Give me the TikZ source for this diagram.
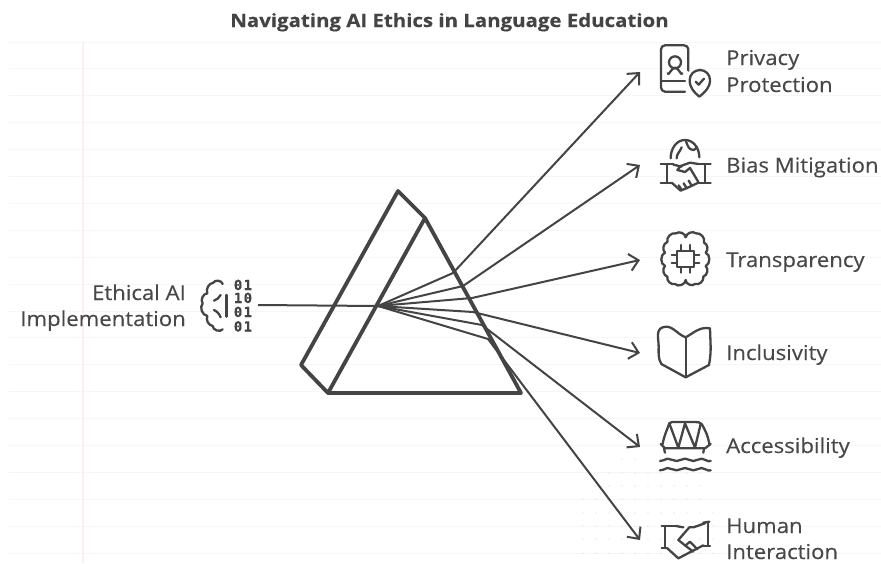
\documentclass[tikz,border=0pt]{standalone}
\usepackage{fontspec}
\setmainfont{Open Sans}
\newfontfamily\labelfont[FakeStretch=1.08,FakeBold=0.25]{Open Sans}
\newfontfamily\headfont[FakeStretch=1.11,FakeBold=0.3,BoldFont={* Bold}]{Open Sans}
\newfontfamily\digitfont[FakeBold=0.3,LetterSpace=10]{DejaVu Sans Mono}
\usetikzlibrary{arrows.meta}
\definecolor{ink}{HTML}{444444}
\definecolor{inktext}{HTML}{484848}
\definecolor{ruled}{HTML}{F6F6F6}
\definecolor{margin}{HTML}{FBEFF1}
\definecolor{dotc}{HTML}{EBEBEB}
\tikzset{
  label/.style={font=\labelfont\fontsize{20.5}{24}\selectfont, text=inktext, inner sep=0pt, anchor=base west},
  labelr/.style={label, anchor=base east},
  digit/.style={font=\digitfont\bfseries\fontsize{14}{14}\selectfont, text=ink, inner sep=0pt, text height=10pt, text depth=0pt},
  titletext/.style={font=\headfont\bfseries\fontsize{18.4}{20}\selectfont, text=ink, inner sep=0pt, anchor=base},
  prism/.style={draw=ink, line width=3.8pt, line join=round, line cap=round},
  ray/.style={draw=ink, line width=2pt, line join=round},
  rayhead/.style={ray, -{Straight Barb[length=9pt,width=17pt,line width=2pt]}},
  icon/.style={shift={(#1)}, x=0.3333pt, y=-0.3333pt, draw=ink, line width=2.3pt, line cap=round, line join=round},
}
\begin{document}
\begin{tikzpicture}[x=1pt,y=-1pt]
\useasboundingbox (0,0) rectangle (881,563);
\fill[white] (0,0) rectangle (881,563);
% ruled paper
\foreach \k in {0,...,19} \draw[ruled, line width=1pt] (9,{42+26.9*\k}) -- (881,{42+26.9*\k});
\draw[margin, line width=1.2pt] (83,42) -- (83,563);
% dots
\foreach \y/\a/\b in {459/621/647, 473/609/711, 486/596/711, 499/583/711, 513/583/724, 526/583/724, 539/583/724, 553/583/724}{
  \foreach \x in {583,596,...,724}{
    \ifnum\x<\a\relax\else\ifnum\x>\b\relax\else
      \fill[dotc] (\x,\y) circle (0.9pt);
    \fi\fi
  }
}
% title
\node[titletext] (title) at (449.5,27) {Navigating AI Ethics in Language Education};

% prism
\coordinate (pa) at (398,191);
\coordinate (pb) at (425,218);
\coordinate (pc) at (301,365);
\coordinate (pd) at (328,393);
\coordinate (pe) at (521,393);
\draw[prism] (pb) -- (pa) -- (pc) -- (pd) -- cycle;
\draw[prism] (pb) -- (pe) -- (pd);

% rays
\coordinate (src) at (258,305);
\coordinate (focus) at (378,306);
\coordinate (b1) at (453,273); \coordinate (e1) at (640,72);
\coordinate (b2) at (463,286); \coordinate (e2) at (640,165);
\coordinate (b3) at (472,298); \coordinate (e3) at (640,260);
\coordinate (b4) at (473,312); \coordinate (e4) at (640,353);
\coordinate (b5) at (482,325); \coordinate (e5) at (640,447);
\coordinate (b6) at (488,339); \coordinate (e6) at (640,540);
\draw[ray] (src) -- (focus);
\foreach \i in {1,...,6} \draw[rayhead] (focus) -- (b\i) -- (e\i);

% labels
\node[label] (l1a) at (726,65) {Privacy};
\node[label] (l1b) at (726,92) {Protection};
\node[label] (l2) at (726,172.5) {Bias Mitigation};
\node[label] (l3) at (726,267) {Transparency};
\node[label] (l4) at (726,360) {Inclusivity};
\node[label] (l5) at (726,453) {Accessibility};
\node[label] (l6a) at (726,533) {Human};
\node[label] (l6b) at (726,559) {Interaction};
\node[labelr] (l0a) at (186,300) {Ethical AI};
\node[labelr] (l0b) at (186,326) {Implementation};

% digits
\node[digit] (d1) at (243,285) {01};
\node[digit] (d2) at (243,298) {10};
\node[digit] (d3) at (243,312) {01};
\node[digit] (d4) at (243,326.5) {01};

% brain (input), zoom origin 0,260
\begin{scope}[icon={0,260}]
  \draw (668,72) to[bend right=70] (640,68) to[bend right=50] (622,100) to[bend right=60] (608,130) to[bend right=60] (622,168) to[bend right=50] (638,198) to[bend right=70] (668,208);
  \draw (680,105) -- (680,170);
  \draw (662,105) to[bend left=20] (642,122);
  \draw (642,150) to[bend left=20] (662,172);
\end{scope}

% privacy icon, zoom origin 640,30
\begin{scope}[icon={640,30}]
  \draw (145,122) -- (145,58) to[out=90,in=0] (132,46) -- (75,46) to[out=180,in=90] (63,58) -- (63,172) to[out=-90,in=180] (75,185) -- (135,185);
  \draw (66,153) -- (135,153);
  \draw (105,97) circle (18);
  \draw (83,130) to[out=-80,in=180] (105,113) to[out=0,in=-100] (127,130);
  \draw (178,200) to[out=140,in=-90] (149,150) to[out=90,in=180] (180,120) to[out=0,in=90] (210,150) to[out=-90,in=40] (178,200);
  \draw (167,155) -- (176,164) -- (192,146);
\end{scope}

% bias icon
\begin{scope}[icon={640,30}]
  \draw (92,385) to[out=90,in=180] (135,330) to[out=0,in=90] (178,382);
  \draw (110,385) to[out=90,in=-110] (125,352);
  \draw (138,334) to[out=-70,in=180] (160,360) to[out=0,in=-110] (170,350);
  \draw (62,402) -- (100,402);
  \draw (80,402) -- (80,458);
  \draw (62,458) -- (95,458);
  \draw (212,402) -- (175,402);
  \draw (195,402) -- (195,458);
  \draw (212,458) -- (175,458);
  \draw (100,404) -- (125,410);
  \draw (175,402) -- (150,398) -- (122,408) -- (112,420) -- (135,426) -- (150,414) -- (175,456);
  \draw (95,458) -- (122,482) -- (150,470) -- (175,458);
  \draw (125,480) -- (116,466);
  \draw (140,475) -- (131,460);
  \draw (155,467) -- (146,452);
\end{scope}

% transparency icon, zoom origin 640,220
\begin{scope}[icon={640,220}]
  \draw (137,52) to[bend left=60] (168,40) to[bend left=60] (192,68) to[bend left=60] (197,98) to[bend left=70] (197,138) to[bend left=60] (190,170) to[bend left=60] (165,192) to[bend left=70] (137,180) to[bend left=70] (105,192) to[bend left=60] (82,170) to[bend left=60] (75,138) to[bend left=70] (75,98) to[bend left=60] (82,66) to[bend left=60] (108,40) to[bend left=60] cycle;
  \draw (110,92) rectangle (163,142);
  \foreach \x in {122,150}{
    \draw (\x,75) -- (\x,92);
    \draw (\x,142) -- (\x,158);
  }
  \foreach \y in {105,130}{
    \draw (95,\y) -- (110,\y);
    \draw (163,\y) -- (178,\y);
  }
\end{scope}

% book icon
\begin{scope}[icon={640,220}]
  \draw (137,352) to[out=160,in=20] (68,322) to[out=200,in=90] (56,380) to[out=-90,in=120] (64,432) -- (137,472) -- (207,435) to[out=80,in=-90] (212,380) -- (210,325) to[out=170,in=30] (137,352);
  \draw (137,352) -- (137,472);
\end{scope}

% bridge icon, zoom origin 640,400
\begin{scope}[icon={640,400}]
  \draw (68,132) to[out=80,in=-110] (88,70) to[out=45,in=180] (105,66) -- (165,66) to[out=0,in=135] (185,72) to[out=-60,in=100] (208,132);
  \draw (88,70) -- (115,143) -- (135,70) -- (165,143) -- (182,72);
  \draw (62,132) -- (75,145) -- (195,145) -- (212,132);
  \draw (72,145) -- (75,158);
  \draw (192,145) -- (190,158);
  \foreach \y in {180,208}{
    \draw (60,\y+3) to[out=-20,in=180] (82,\y-4) to[out=0,in=180] (110,\y+3) to[out=0,in=180] (135,\y-4) to[out=0,in=180] (160,\y+3) to[out=0,in=180] (185,\y-4) to[out=0,in=200] (212,\y+3);
  }
\end{scope}

% human interaction icon
\begin{scope}[icon={640,400}]
  \draw (65,378) -- (108,378);
  \draw (75,378) -- (75,445);
  \draw (65,445) -- (82,445);
  \draw (82,445) -- (115,475) -- (190,436);
  \draw (190,368) -- (208,365);
  \draw (203,366) -- (203,438);
  \draw (190,438) -- (210,438);
  \draw (108,378) -- (130,382);
  \draw (195,370) -- (160,382) -- (148,382) -- (115,420) -- (136,437) -- (150,425) -- (172,448);
  \draw (136,437) -- (160,455);
\end{scope}
\end{tikzpicture}
\end{document}
